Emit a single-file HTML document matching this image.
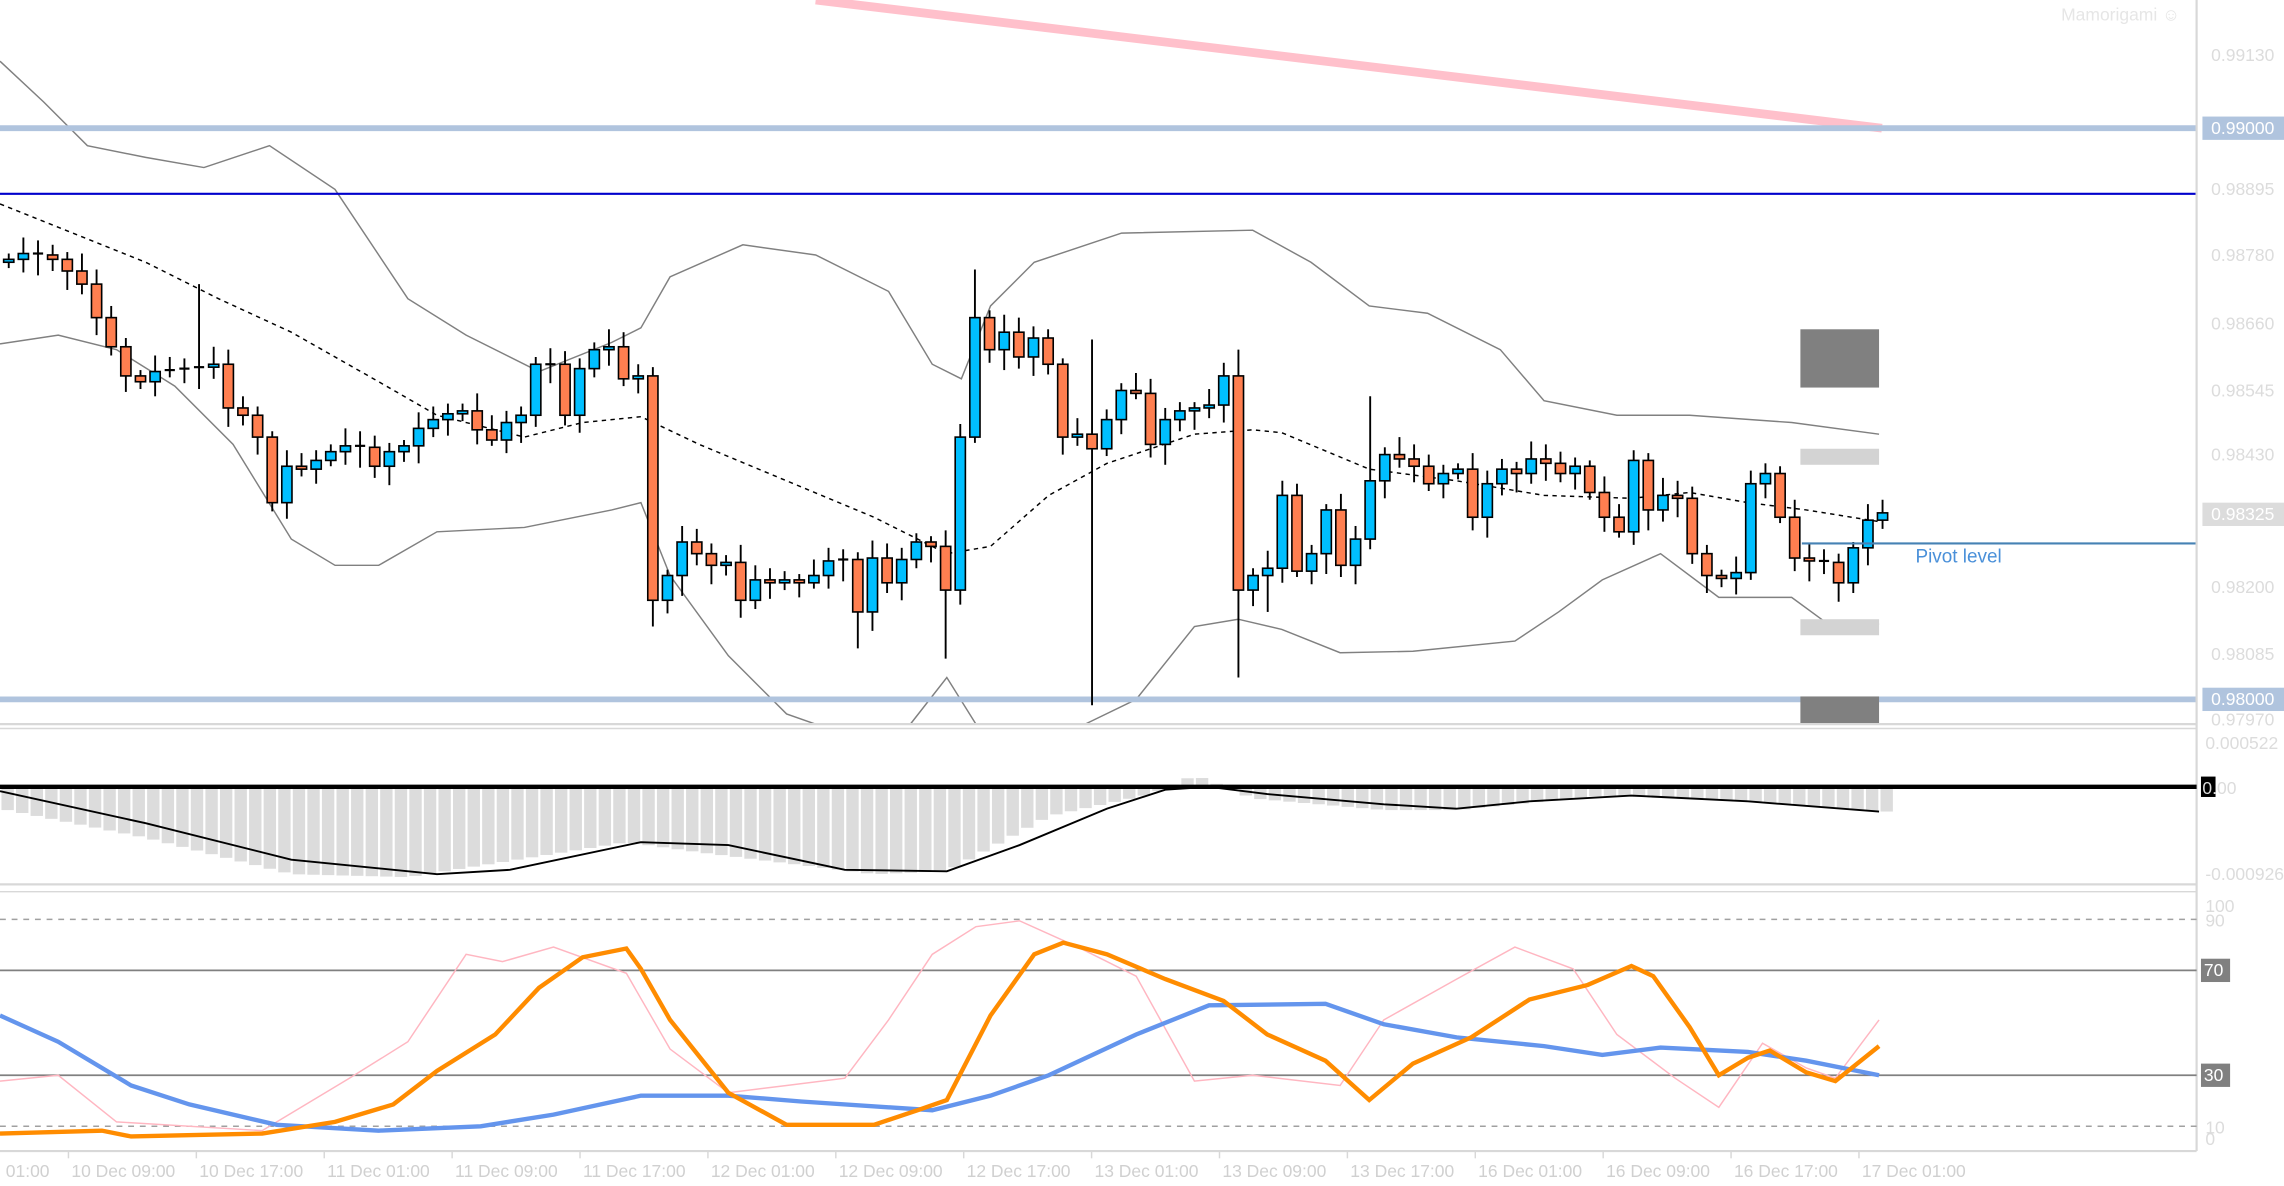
<!DOCTYPE html>
<html><head><meta charset="utf-8"><style>
html,body{margin:0;padding:0;background:#fff;overflow:hidden}
svg{display:block}
text{font-family:"Liberation Sans",sans-serif}
</style></head><body>
<svg id="s" width="2284" height="1186" viewBox="0 0 1568 814" preserveAspectRatio="none" xmlns="http://www.w3.org/2000/svg">
<rect width="1568" height="814" fill="#fff"/>
<polyline fill="none" stroke="#808080" stroke-width="1" points="0,42 30,70 60,100 100,108 140,115 185,100 230,130 280,205 320,230 370,255 420,235 440,225 460,190 510,168 560,175 610,200 640,250 660,260 680,210 710,180 770,160 860,158 900,180 940,210 980,215 1030,240 1060,275 1110,285 1160,285 1230,290 1290,298"/>
<polyline fill="none" stroke="#808080" stroke-width="1" points="0,236 40,230 80,240 120,265 160,305 200,370 230,388 260,388 300,365 360,362 420,350 440,345 460,395 500,450 540,490 560,497"/>
<polyline fill="none" stroke="#808080" stroke-width="1" points="625,497 650,465 670,497"/>
<polyline fill="none" stroke="#808080" stroke-width="1" points="745,497 780,480 820,430 850,425 880,432 920,448 970,447 1040,440 1070,420 1100,398 1140,380 1180,410 1230,410 1260,432 1290,428"/>
<polyline fill="none" stroke="#000" stroke-width="1" stroke-dasharray="3,3" points="0,140 50,160 100,180 150,205 200,228 260,262 300,285 360,300 400,290 440,286 480,305 540,330 600,355 650,380 680,375 720,340 760,318 820,298 860,295 880,297 940,322 1000,330 1060,340 1120,342 1160,338 1200,345 1240,350 1290,358"/>
<line x1="560" y1="0" x2="1292" y2="88" stroke="#ffc0cb" stroke-width="6"/>
<line x1="0" y1="88" x2="1508" y2="88" stroke="#b0c4de" stroke-width="4"/>
<line x1="0" y1="133" x2="1508" y2="133" stroke="#0000cc" stroke-width="1.5"/>
<line x1="0" y1="480" x2="1508" y2="480" stroke="#b0c4de" stroke-width="4"/>
<rect x="1236" y="226" width="54" height="40" fill="#808080"/>
<rect x="1236" y="308" width="54" height="11" fill="#d3d3d3"/>
<rect x="1236" y="425" width="54" height="11" fill="#d3d3d3"/>
<rect x="1236" y="478" width="54" height="19" fill="#808080"/>
<g id="cd"></g>
<line x1="1237" y1="373" x2="1508" y2="373" stroke="#4682b4" stroke-width="1.5"/>
<text x="1315" y="386" font-size="13" fill="#4a90d9">Pivot level</text>
<text x="1415" y="14" font-size="12" fill="#e6e6e6">Mamorigami ☺</text>
<line x1="1508" y1="0" x2="1508" y2="790" stroke="#d8d8d8" stroke-width="1.5"/>
<line x1="0" y1="497" x2="1508" y2="497" stroke="#d8d8d8" stroke-width="1.5"/>
<line x1="0" y1="500" x2="1508" y2="500" stroke="#d8d8d8" stroke-width="1"/>
<line x1="0" y1="607" x2="1508" y2="607" stroke="#d8d8d8" stroke-width="1.5"/>
<line x1="0" y1="612" x2="1508" y2="612" stroke="#d8d8d8" stroke-width="1"/>
<line x1="0" y1="790" x2="1508" y2="790" stroke="#d8d8d8" stroke-width="1.5"/>
<g font-size="12" fill="#dcdcdc">
<text x="1518" y="42">0.99130</text>
<text x="1518" y="134">0.98895</text>
<text x="1518" y="179">0.98780</text>
<text x="1518" y="226">0.98660</text>
<text x="1518" y="272">0.98545</text>
<text x="1518" y="316">0.98430</text>
<text x="1518" y="407">0.98200</text>
<text x="1518" y="453">0.98085</text>
<text x="1518" y="498">0.97970</text>
</g>
<rect x="1512" y="80" width="56" height="16" fill="#b0c4de"/><text x="1518" y="92" font-size="12" fill="#fff">0.99000</text>
<rect x="1512" y="345" width="56" height="16" fill="#dcdcdc"/><text x="1518" y="357" font-size="12" fill="#fff">0.98325</text>
<rect x="1512" y="472" width="56" height="16" fill="#b0c4de"/><text x="1518" y="484" font-size="12" fill="#fff">0.98000</text>
<g id="mh"></g>
<line x1="0" y1="540" x2="1508" y2="540" stroke="#000" stroke-width="3"/>
<polyline fill="none" stroke="#000" stroke-width="1.3" points="0,543 100,565 200,590 300,600 350,597 440,578 500,580 580,597 650,598 700,580 760,555 800,542 830,540 870,545 950,552 1000,555 1050,550 1120,546 1200,550 1290,557"/>
<g font-size="12" fill="#dcdcdc">
<text x="1514" y="514">0.000522</text>
<rect x="1511" y="533" width="10" height="14" fill="#000"/>
<text x="1512" y="545">0.00</text>
<text x="1514" y="604">-0.000926</text>
</g>
<line x1="0" y1="631" x2="1508" y2="631" stroke="#a0a0a0" stroke-dasharray="4,4"/>
<line x1="0" y1="666" x2="1508" y2="666" stroke="#808080" stroke-width="1.2"/>
<line x1="0" y1="738" x2="1508" y2="738" stroke="#808080" stroke-width="1.2"/>
<line x1="0" y1="773" x2="1508" y2="773" stroke="#a0a0a0" stroke-dasharray="4,4"/>
<polyline fill="none" stroke="#ffb6c1" stroke-width="1" points="0,742 40,738 80,770 180,776 240,740 280,715 320,655 345,660 380,650 430,668 460,720 500,750 540,745 580,740 610,700 640,655 670,636 700,632 740,650 780,670 820,742 860,738 920,745 950,700 1000,672 1040,650 1080,665 1110,710 1150,740 1180,760 1210,716 1240,733 1260,740 1290,700"/>
<polyline fill="none" stroke="#6495ed" stroke-width="3" points="0,697 40,715 90,745 130,758 190,772 260,776 330,773 380,765 440,752 500,752 550,756 640,762 680,752 720,738 780,710 830,690 910,689 950,703 1000,712 1060,718 1100,724 1140,719 1200,722 1240,728 1290,738"/>
<polyline fill="none" stroke="#ff8c00" stroke-width="3" points="0,778 70,776 90,780 180,778 230,770 270,758 300,735 340,710 370,678 400,657 430,651 440,665 460,700 500,750 540,772 580,772 600,772 630,762 650,755 680,697 710,655 730,647 760,655 800,672 840,687 870,710 910,728 940,755 970,730 1010,712 1050,686 1090,676 1120,663 1135,670 1160,705 1180,738 1200,726 1215,721 1240,736 1260,742 1290,718"/>
<g font-size="12" fill="#dcdcdc">
<text x="1514" y="626">100</text><text x="1514" y="636">90</text>
<text x="1514" y="778">10</text><text x="1514" y="786">0</text>
</g>
<rect x="1511" y="658" width="20" height="16" fill="#808080"/><text x="1513" y="670" font-size="12" fill="#fff">70</text>
<rect x="1511" y="730" width="20" height="16" fill="#808080"/><text x="1513" y="742" font-size="12" fill="#fff">30</text>
<g id="tx" font-size="12" fill="#d0d0d0"></g>
</svg>
<script>
(function(){
var NS="http://www.w3.org/2000/svg";
function el(p,n,a){var e=document.createElementNS(NS,n);for(var k in a)e.setAttribute(k,a[k]);p.appendChild(e);return e;}
var c=[178,174,175,178,186,195,218,238,258,262,255,254,253,252,250,280,285,300,345,320,322,316,310,306,307,320,310,306,294,288,284,282,295,302,290,285,250,250,285,253,240,238,260,258,412,395,372,380,388,386,412,398,400,398,400,395,385,384,420,383,400,384,372,375,405,300,218,240,228,245,232,250,300,298,308,288,268,270,305,288,282,280,278,258,405,395,390,340,392,380,350,388,370,330,312,315,320,332,325,322,355,332,322,325,315,318,325,320,338,355,365,316,350,340,342,380,395,397,393,332,325,355,383,385,386,400,376,357,352];
var hi={66:185,74:233,84:240,93:272,36:245,13:195};
var lo={74:484,84:465,64:452,44:430,58:445,86:420};
var g=document.getElementById("cd");
var prv=180;
for(var i=0;i<c.length;i++){
 var x=6+i*10.05, o=prv, cl=c[i]; prv=cl;
 var bt=Math.min(o,cl), bb=Math.max(o,cl);
 var h=(hi[i]!==undefined)?hi[i]:bt-4-(i*7%9);
 var l=(lo[i]!==undefined)?lo[i]:bb+4+(i*5%11);
 el(g,"line",{x1:x,y1:h,x2:x,y2:l,stroke:"#000","stroke-width":1.3});
 if(bb-bt<2){el(g,"line",{x1:x-3.5,y1:bt,x2:x+3.5,y2:bt,stroke:"#000","stroke-width":1.5});}
 else el(g,"rect",{x:x-3.5,y:bt,width:7,height:bb-bt,fill:cl<o?"#00bfff":"#ff7f50",stroke:"#000","stroke-width":1.1});
}
var hp=[[0,555],[100,575],[200,600],[280,602],[430,578],[480,585],[600,600],[650,598],[720,560],[790,545],[820,532],[860,548],[950,556],[1000,556],[1100,546],[1200,550],[1295,557]];
function interp(a,x){for(var j=0;j<a.length-1;j++){if(x>=a[j][0]&&x<=a[j+1][0]){var t=(x-a[j][0])/(a[j+1][0]-a[j][0]);return a[j][1]+t*(a[j+1][1]-a[j][1]);}}return a[a.length-1][1];}
var mh=document.getElementById("mh");
for(var xx=0;xx<1295;xx+=10){var y=interp(hp,xx+5);el(mh,"rect",{x:xx+1,y:Math.min(y,540),width:8.5,height:Math.abs(y-540),fill:"#dcdcdc"});}
var tx=document.getElementById("tx");
var labs=["10 Dec 09:00","10 Dec 17:00","11 Dec 01:00","11 Dec 09:00","11 Dec 17:00","12 Dec 01:00","12 Dec 09:00","12 Dec 17:00","13 Dec 01:00","13 Dec 09:00","13 Dec 17:00","16 Dec 01:00","16 Dec 09:00","16 Dec 17:00","17 Dec 01:00"];
el(tx,"text",{x:4,y:808}).textContent="01:00";
for(var k=0;k<labs.length;k++){var lx=49+k*87.8;el(tx,"text",{x:lx,y:808}).textContent=labs[k];el(tx,"line",{x1:lx-2,y1:790,x2:lx-2,y2:795,stroke:"#d8d8d8"});}
})();
</script>
</body></html>
